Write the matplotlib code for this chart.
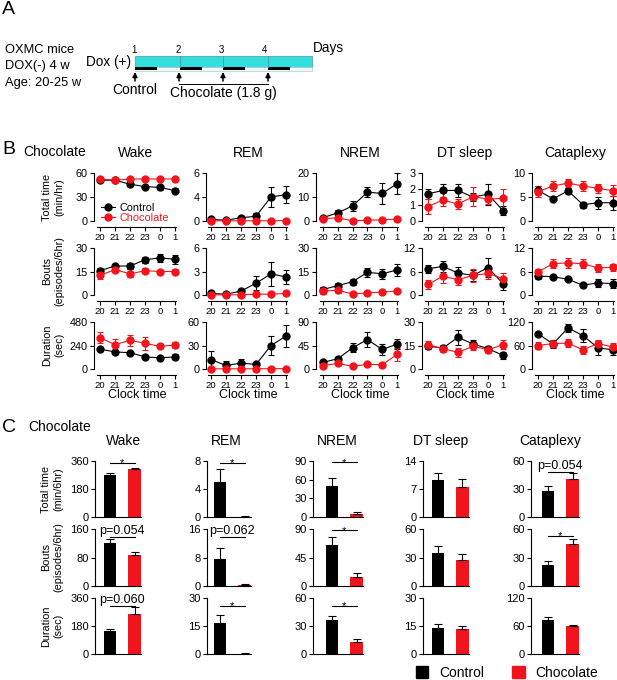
import matplotlib
matplotlib.use('Agg')
import matplotlib.pyplot as plt
import numpy as np
from matplotlib.patches import Rectangle, Patch
from matplotlib.lines import Line2D

plt.rcParams.update({'font.family': ['Liberation Sans', 'DejaVu Sans'], 'font.size': 8,
                     'axes.linewidth': 0.8})

W, H = 617, 680
RED = '#f2141c'

states = ['Wake', 'REM', 'NREM', 'DT sleep', 'Cataplexy']
clock_labels = ['20', '21', '22', '23', '0', '1']

# ---- panel B: hourly values (control / chocolate), mean and SEM ----
ctrl_total = [[51, 51, 46, 43, 42, 38],
              [0.2, 0.1, 0.4, 0.6, 3.0, 3.3],
              [1.4, 3.4, 6.3, 12.0, 11.5, 15.5],
              [1.70, 1.91, 1.91, 1.49, 1.68, 0.65],
              [6.4, 4.6, 6.3, 3.4, 3.8, 3.8]]
ctrl_total_err = [[2, 1.5, 2, 2, 3, 3],
                  [0.2, 0.15, 0.25, 0.35, 1.3, 1.1],
                  [0.5, 1.0, 2.2, 2.2, 4.4, 4.4],
                  [0.3, 0.4, 0.4, 0.25, 0.65, 0.3],
                  [0.8, 0.5, 0.5, 0.6, 1.3, 1.5]]
choc_total = [[52.5, 51, 52.5, 52.5, 52.5, 52.5],
              [0.02, 0.02, 0.02, 0.03, 0.03, 0.05],
              [1.0, 1.3, 0.1, 0.3, 0.5, 0.8],
              [0.9, 1.32, 1.05, 1.53, 1.36, 1.42],
              [6.1, 7.3, 7.9, 7.3, 6.8, 6.3]]
choc_total_err = [[1, 1, 1, 1, 1, 1],
                  [0.02, 0.02, 0.02, 0.02, 0.02, 0.03],
                  [0.4, 0.5, 0.1, 0.2, 0.2, 0.3],
                  [0.45, 0.4, 0.3, 0.6, 0.3, 0.6],
                  [1.2, 1.1, 0.9, 1.1, 0.9, 1.1]]

ctrl_bouts = [[15.5, 18.5, 18.5, 22.5, 23.7, 22.8],
              [0.2, 0.1, 0.5, 1.5, 2.7, 2.3],
              [3.5, 6, 8.5, 14.5, 13.5, 16],
              [6.7, 7.3, 5.6, 5.0, 7.0, 2.9],
              [4.8, 4.7, 4.0, 2.5, 3.1, 2.9]]
ctrl_bouts_err = [[1.5, 1.5, 2, 2, 2.5, 3],
                  [0.2, 0.1, 0.3, 0.9, 1.5, 0.9],
                  [1.5, 1.5, 2, 3, 3, 4],
                  [1.0, 1.5, 1.5, 1.5, 2.5, 1.5],
                  [0.8, 0.4, 0.4, 0.5, 1.0, 1.1]]
choc_bouts = [[12.5, 16.2, 13.5, 15.5, 15, 15],
              [0.02, 0.02, 0.03, 0.1, 0.1, 0.2],
              [2.6, 3.0, 0.6, 1.4, 1.8, 2.6],
              [2.7, 4.8, 3.9, 5.0, 5.5, 4.2],
              [5.9, 8.0, 8.2, 8.0, 6.9, 7.1]]
choc_bouts_err = [[2, 1.5, 2, 1.5, 1, 1.5],
                  [0.02, 0.02, 0.03, 0.1, 0.1, 0.1],
                  [2, 1.5, 0.5, 0.5, 0.5, 0.5],
                  [1.2, 1.8, 1.3, 1.7, 1.3, 1.4],
                  [0.8, 1.2, 1.3, 1.1, 1.0, 0.9]]

ctrl_dur = [[203, 174, 167, 124, 114, 124],
            [12, 4.5, 7.5, 5.8, 30, 42],
            [12.7, 19.7, 40.6, 56.4, 37.4, 47.5],
            [14.5, 13.4, 20.2, 16, 13, 8.7],
            [90, 64, 105, 85, 54, 49]]
ctrl_dur_err = [[15, 20, 15, 15, 15, 25],
                [11, 6, 5, 2, 12, 14],
                [3, 3, 9, 14, 10, 9],
                [2, 2, 5, 2.5, 1.5, 2],
                [5, 10, 10, 17, 17, 12]]
choc_dur = [[320, 249, 292, 263, 231, 245],
            [0.2, 0.2, 0.2, 0.3, 0.3, 0.5],
            [6.3, 10.8, 5, 8.9, 8.2, 27.9],
            [15.5, 13, 10.6, 14.5, 12.3, 15.5],
            [60, 65, 66, 49, 65, 56]]
choc_dur_err = [[55, 60, 55, 65, 20, 30],
                [0.2, 0.2, 0.2, 0.2, 0.2, 0.3],
                [4, 3, 2, 2, 3, 12],
                [2.5, 2, 3, 2.5, 2, 3],
                [10, 10, 10, 10, 8, 10]]

b_ymax = [[60, 6, 20, 3, 10], [30, 6, 30, 12, 12], [480, 60, 90, 30, 120]]
b_yticks = [[[0, 30, 60], [0, 3, 6], [0, 10, 20], [0, 1, 2, 3], [0, 5, 10]],
            [[0, 15, 30], [0, 3, 6], [0, 15, 30], [0, 6, 12], [0, 6, 12]],
            [[0, 240, 480], [0, 30, 60], [0, 45, 90], [0, 15, 30], [0, 60, 120]]]
rem_total_ticklabels = ['0', '4', '6']

# ---- panel C: 6 h totals ----
c_ctrl_total = [272, 5.0, 49.8, 9.2, 28.2]
c_ctrl_total_err = [11, 1.8, 13, 1.9, 4.6]
c_choc_total = [308, 0.05, 4.3, 7.6, 40.6]
c_choc_total_err = [9, 0.05, 3.7, 2, 6.4]
c_ctrl_bouts = [121.6, 7.5, 64, 35, 22]
c_ctrl_bouts_err = [9, 3.1, 13, 7.6, 4.4]
c_choc_bouts = [87.5, 0.4, 13.6, 27, 44.5]
c_choc_bouts_err = [9, 0.3, 7, 7, 5.5]
c_ctrl_dur = [151, 16.5, 36, 14, 73.4]
c_ctrl_dur_err = [9, 4.5, 5, 2.2, 5.6]
c_choc_dur = [259, 0.2, 12.4, 13.4, 59.3]
c_choc_dur_err = [43, 0.1, 3.5, 1.4, 3.5]

c_ymax = [[360, 8, 90, 14, 60], [160, 16, 90, 60, 60], [360, 30, 60, 30, 120]]
c_yticks = [[[0, 180, 360], [0, 4, 8], [0, 30, 60, 90], [0, 7, 14], [0, 30, 60]],
            [[0, 80, 160], [0, 8, 16], [0, 45, 90], [0, 30, 60], [0, 30, 60]],
            [[0, 180, 360], [0, 15, 30], [0, 30, 60], [0, 15, 30], [0, 60, 120]]]

# (row, column, line height, label)
sig_marks = [(0, 0, 349, '*'), (1, 0, 138, 'p=0.054'), (2, 0, 309, 'p=0.060'),
             (0, 1, 7.76, '*'), (1, 1, 13.7, 'p=0.062'), (2, 1, 25.9, '*'),
             (0, 2, 88, '*'), (1, 2, 88, '*'), (2, 2, 51.7, '*'),
             (0, 4, 48.5, 'p=0.054'), (1, 4, 52.6, '*')]


def box(l, t, r, b):
    return [l / W, 1 - b / H, (r - l) / W, (b - t) / H]


fig = plt.figure(figsize=(W / 100, H / 100), dpi=100)
bg = fig.add_axes([0, 0, 1, 1])
bg.set_xlim(0, W)
bg.set_ylim(H, 0)
bg.axis('off')


def txt(x, y, s, **kw):
    kw.setdefault('ha', 'center')
    kw.setdefault('va', 'center')
    bg.text(x, y, s, **kw)


# ---------------- panel A ----------------
txt(2, 9, 'A', ha='left', size=14)
txt(5, 50, 'OXMC mice', ha='left', size=9.3)
txt(5, 66, 'DOX(-) 4 w', ha='left', size=9.3)
txt(5, 83, 'Age: 20-25 w', ha='left', size=9.3)
txt(131, 62, 'Dox (+)', ha='right', size=9.8)
bg.add_patch(Rectangle((135, 56), 177, 11, fc='#33dede', ec='#4a9aa0', lw=0.5))
bg.add_patch(Rectangle((135, 67), 177, 3.5, fc='#eef7fa', ec='#a9cfd9', lw=0.5))
for xd in [180, 223, 268]:
    bg.plot([xd, xd], [56, 67], color='#4a9aa0', lw=0.6)
for x0 in [135, 180, 223, 268]:
    bg.add_patch(Rectangle((x0, 67.3), 22, 3, fc='black', ec='none'))
for i, xd in enumerate([134, 178, 221, 264]):
    txt(xd, 50, str(i + 1), size=7)
txt(313, 48, 'Days', ha='left', size=9.8)
for xa in [135, 179, 223, 268]:
    bg.annotate('', xy=(xa, 72), xytext=(xa, 81),
                arrowprops=dict(arrowstyle='-|>', color='black', lw=1.1,
                                mutation_scale=7, shrinkA=0, shrinkB=0))
bg.plot([179, 268], [84, 84], color='black', lw=0.7)
txt(135, 90, 'Control', size=10)
txt(223, 93, 'Chocolate (1.8 g)', size=10)

# ---------------- panel B ----------------
txt(2, 150, 'B', ha='left', size=14)
txt(23, 152, 'Chocolate', ha='left', size=10)

B_L = [94, 206, 316, 422, 532]
B_F = [100, 211, 323, 428, 538]
B_R = [175, 286, 397, 503, 613]
B_rows = [(173, 221), (248, 295), (322, 369)]
b_title_x = [135, 248, 360, 465, 575]

b_sets = [(ctrl_total, ctrl_total_err, choc_total, choc_total_err),
          (ctrl_bouts, ctrl_bouts_err, choc_bouts, choc_bouts_err),
          (ctrl_dur, ctrl_dur_err, choc_dur, choc_dur_err)]
x = np.arange(len(clock_labels))

for r, (top, bot) in enumerate(B_rows):
    cm, ce, hm, he = b_sets[r]
    for c in range(5):
        L, F, R = B_L[c], B_F[c], B_R[c]
        u = (R - F) / 5
        ax = fig.add_axes(box(L, top, R + 4, bot))
        ax.set_xlim(-(F - L) / u, 5 + 4 / u)
        ax.set_ylim(0, b_ymax[r][c])
        for vals, errs, col in [(cm[c], ce[c], 'black'), (hm[c], he[c], RED)]:
            eb = ax.errorbar(x, vals, yerr=errs, fmt='-o', color=col, ms=5,
                             lw=0.8, elinewidth=0.8, capsize=2.5, capthick=0.8)
            for a in eb.get_children():
                a.set_clip_on(False)
        for s in ['top', 'right']:
            ax.spines[s].set_visible(False)
        ax.spines['bottom'].set_position(('outward', 4.5))
        ax.spines['bottom'].set_bounds(-0.2, 5.05)
        ax.set_xticks(x, clock_labels)
        ax.set_yticks(b_yticks[r][c])
        if r == 0 and c == 1:
            ax.set_yticklabels(rem_total_ticklabels)
        ax.tick_params(axis='x', length=3, width=0.8, labelsize=6.8, pad=1.5)
        ax.tick_params(axis='y', length=3, width=0.8, labelsize=7.8, pad=1.5)
        ax.patch.set_visible(False)
        if r == 0 and c == 0:
            hs = [Line2D([], [], color='black', marker='o', ms=5, lw=0.8),
                  Line2D([], [], color=RED, marker='o', ms=5, lw=0.8)]
            ax.legend(hs, ['Control', 'Chocolate'], loc='lower left',
                      bbox_to_anchor=(0.02, -0.16), frameon=False, fontsize=7.8,
                      handlelength=1.3, handletextpad=0.4, labelspacing=0.05,
                      borderpad=0, labelcolor=['black', RED])
        if r == 0:
            txt(b_title_x[c], 153, states[c], size=10)
        if r == 2:
            txt((F + R) / 2, 395, 'Clock time', size=9)

txt(53, 197, 'Total time\n(min/hr)', rotation=90, size=7.8, linespacing=1.25)
txt(53, 271, 'Bouts\n(episodes/6hr)', rotation=90, size=7.8, linespacing=1.25)
txt(53, 345, 'Duration\n(sec)', rotation=90, size=7.8, linespacing=1.25)

# ---------------- panel C ----------------
txt(2, 428, 'C', ha='left', size=14)
txt(28, 427, 'Chocolate', ha='left', size=10)

C_L = [95, 207, 313, 423, 531]
C_c0 = [110, 220, 332, 438, 548]
C_rows = [(461, 517), (529, 586), (598, 654)]
c_title_x = [124, 226, 337, 441, 550]
step = 24.5

c_sets = [(c_ctrl_total, c_ctrl_total_err, c_choc_total, c_choc_total_err),
          (c_ctrl_bouts, c_ctrl_bouts_err, c_choc_bouts, c_choc_bouts_err),
          (c_ctrl_dur, c_ctrl_dur_err, c_choc_dur, c_choc_dur_err)]
axes_c = {}
for r, (top, bot) in enumerate(C_rows):
    cm, ce, hm, he = c_sets[r]
    for c in range(5):
        L, c0 = C_L[c], C_c0[c]
        ax = fig.add_axes(box(L, top, c0 + step + 6.5, bot))
        ax.set_xlim(-(c0 - L) / step, 1 + 6.5 / step)
        ax.set_ylim(0, c_ymax[r][c])
        ax.bar([0, 1], [cm[c], hm[c]], width=0.5, color=['black', RED],
               yerr=[[0, 0], [ce[c], he[c]]],
               error_kw=dict(ecolor='black', elinewidth=0.8, capsize=3, capthick=0.8))
        for s in ['top', 'right']:
            ax.spines[s].set_visible(False)
        ax.set_xticks([])
        ax.set_yticks(c_yticks[r][c])
        ax.tick_params(axis='y', length=3, width=0.8, labelsize=8, pad=1.5)
        ax.patch.set_visible(False)
        axes_c[(r, c)] = ax
        if r == 0:
            txt(c_title_x[c], 441, states[c], size=10)

for r, c, yl, label in sig_marks:
    ax = axes_c[(r, c)]
    ax.plot([0, 1], [yl, yl], color='black', lw=0.8, clip_on=False)
    if label == '*':
        ax.annotate(label, (0.5, yl), xytext=(0, -2.5), textcoords='offset points',
                    ha='center', va='baseline', fontsize=8)
    else:
        ax.annotate(label, (0.5, yl), xytext=(0, 2.2), textcoords='offset points',
                    ha='center', va='baseline', fontsize=9)

txt(52, 489, 'Total time\n(min/6hr)', rotation=90, size=7.8, linespacing=1.25)
txt(52, 557, 'Bouts\n(episodes/6hr)', rotation=90, size=7.8, linespacing=1.25)
txt(52, 626, 'Duration\n(sec)', rotation=90, size=7.8, linespacing=1.25)

fig.legend([Patch(color='black'), Patch(color=RED)], ['Control', 'Chocolate'],
           loc='center', bbox_to_anchor=(507 / W, 1 - 673 / H), ncol=2,
           frameon=False, fontsize=10, handlelength=0.9, handleheight=0.9,
           handletextpad=0.8, columnspacing=2.0, borderpad=0)

fig.savefig('out.png', dpi=100)
